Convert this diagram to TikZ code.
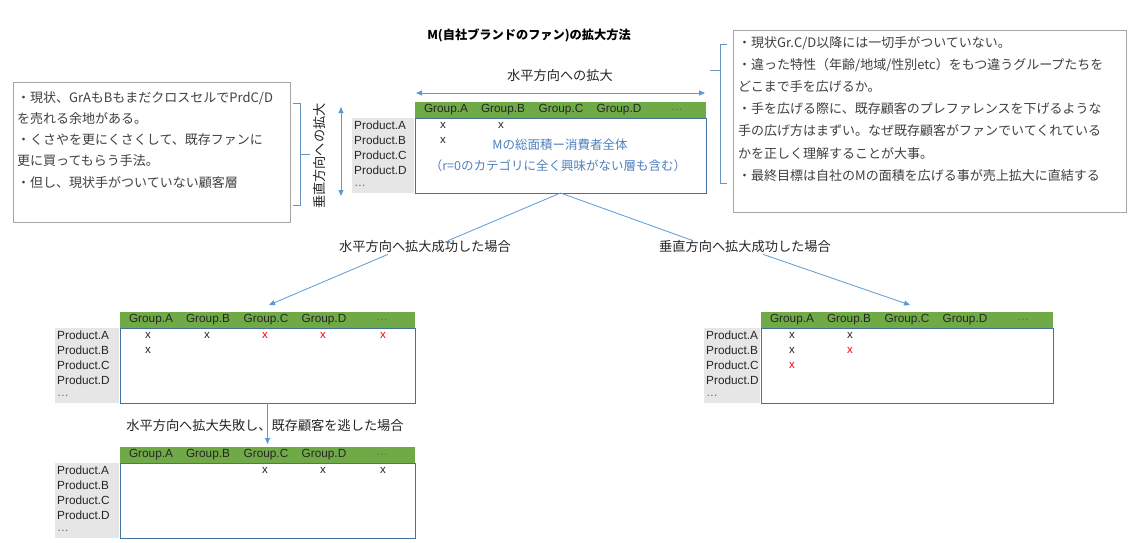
\documentclass[tikz,border=0pt]{standalone}
\usepackage{fontspec}
\setmainfont{Liberation Sans}
\newfontfamily\jp{Noto Sans CJK JP}
\usetikzlibrary{arrows.meta,calc}
\definecolor{hgreen}{RGB}{112,170,71}
\definecolor{tborder}{RGB}{65,113,156}
\definecolor{pgray}{RGB}{231,230,230}
\definecolor{arrblue}{RGB}{91,155,213}
\definecolor{mblue}{RGB}{79,129,189}
\definecolor{boxgray}{RGB}{166,166,166}
\definecolor{txtgray}{RGB}{64,64,64}
\definecolor{lbl}{RGB}{38,38,38}
\definecolor{xred}{RGB}{255,0,0}

\newcommand\GTable[5]{%
  \node[pcol, minimum width=#5pt, anchor=north east] (#1p) at (#2-1,#3+16) {};
  \node[tbox, minimum width=#4pt, anchor=north west] (#1b) at (#2,#3+16) {};
  \node[hdr, minimum width=#4pt, anchor=north west] (#1h) at (#2,#3) {};
  \node[glab] (#1ga) at (#2+31,#3+8) {Group.A};
  \node[glab] (#1gb) at (#2+88,#3+8) {Group.B};
  \node[glab] (#1gc) at (#2+146,#3+8) {Group.C};
  \node[glab] (#1gd) at (#2+204,#3+8) {Group.D};
  \node[glab, text=black!60] (#1ge) at (#2+262,#3+8) {…};
  \node[plab] (#1pa) at (#2-#5+1,#3+23) {Product.A};
  \node[plab] (#1pb) at (#2-#5+1,#3+38) {Product.B};
  \node[plab] (#1pc) at (#2-#5+1,#3+53) {Product.C};
  \node[plab] (#1pd) at (#2-#5+1,#3+68) {Product.D};
  \node[plab, text=black!60] (#1pe) at (#2-#5+1,#3+84) {…};
}
\newcommand\XM[4]{\node[xm, text=#4] (#1) at (#2,#3) {x};}

\begin{document}
\begin{tikzpicture}[x=1pt,y=-1pt,
 hdr/.style={fill=hgreen, draw=none, minimum height=16pt, inner sep=0pt, outer sep=0pt},
 tbox/.style={draw=tborder, fill=white, line width=0.8pt, minimum height=75pt, inner sep=0pt, outer sep=0pt},
 pcol/.style={fill=pgray, draw=none, minimum height=75pt, inner sep=0pt, outer sep=0pt},
 glab/.style={font=\fontsize{11.8}{13}\selectfont, text=black!85, inner sep=0pt},
 plab/.style={font=\fontsize{11.8}{13}\selectfont, text=black!85, inner sep=0pt, anchor=west},
 xm/.style={font=\fontsize{11.5}{13}\selectfont, inner sep=0pt},
 tbx/.style={draw=boxgray, line width=0.7pt, fill=white, inner sep=0pt},
 jtext/.style={font=\jp\fontsize{13}{21.25}\selectfont, text=txtgray, inner sep=0pt, align=left, anchor=north west},
 jlab/.style={font=\jp\fontsize{13.2}{15}\selectfont, text=lbl, inner sep=1pt},
 conn/.style={draw=arrblue, line width=0.8pt},
 arr/.style={conn, -{Triangle[length=6pt,width=5pt]}},
 darr/.style={conn, {Triangle[length=6pt,width=5pt]}-{Triangle[length=6pt,width=5pt]}},
 brc/.style={draw=arrblue!75!gray, line width=0.7pt},
]
\useasboundingbox (0,0) rectangle (1135,543);
\fill[white] (0,0) rectangle (1135,543);

% title
\node[font=\jp\bfseries\fontsize{12.2}{14}\selectfont, text=black] (title) at (529,35) {M(自社ブランドのファン)の拡大方法};

% left text box
\node[tbx, minimum width=277pt, minimum height=140pt, anchor=north west] (lbox) at (13,82) {};
\node[jtext, text width=272pt] (ltext) at (17,91) {・現状、GrAもBもまだクロスセルでPrdC/D\\を売れる余地がある。\\・くさやを更にくさくして、既存ファンに\\更に買ってもらう手法。\\・但し、現状手がついていない顧客層};
\draw[brc] (293,103) -- (300,103) -- (300,205) -- (293,205);
\draw[brc] (300,154) -- (310,154);

% right text box
\node[tbx, minimum width=393pt, minimum height=182pt, anchor=north west] (rbox) at (733,30) {};
\node[jtext, text width=385pt, font=\jp\fontsize{13}{22.2}\selectfont] (rtext) at (738,36) {・現状Gr.C/D以降には一切手がついていない。\\・違った特性（年齢/地域/性別etc）をもつ違うグループたちを\\どこまで手を広げるか。\\・手を広げる際に、既存顧客のプレファレンスを下げるような\\手の広げ方はまずい。なぜ既存顧客がファンでいてくれている\\かを正しく理解することが大事。\\・最終目標は自社のMの面積を広げる事が売上拡大に直結する};
\draw[brc] (727,44) -- (720,44) -- (720,183) -- (727,183);
\draw[brc] (720,70) -- (710,70);

% main table
\GTable{m}{415}{102}{291}{62}
\XM{mx1}{443}{125}{black!85}
\XM{mx2}{501}{125}{black!85}
\XM{mx3}{443}{140}{black!85}
\node[font=\jp\fontsize{12.5}{14}\selectfont, text=mblue, inner sep=0pt] (mt1) at (560,145) {Mの総面積ー消費者全体};
\node[font=\jp\fontsize{12.5}{14}\selectfont, text=mblue, inner sep=0pt] (mt2) at (558,166) {（r=0のカテゴリに全く興味がない層も含む）};

% horizontal expansion
\node[jlab] (hlab) at (560,75) {水平方向への拡大};
\coordinate (ha1) at (416,93);
\coordinate (ha2) at (705,93);
\draw[darr] (ha1) -- (ha2);

% vertical expansion
\node[jlab, rotate=90] (vlab) at (319,156) {垂直方向への拡大};
\coordinate (va1) at (341,107);
\coordinate (va2) at (341,196);
\draw[darr] (va1) -- (va2);

% bottom-left table 1
\GTable{ta}{120}{312}{295}{64}
\XM{ax1}{148}{335}{black!85}
\XM{ax2}{207}{335}{black!85}
\XM{ax3}{265}{335}{xred}
\XM{ax4}{323}{335}{xred}
\XM{ax5}{383}{335}{xred}
\XM{ax6}{148}{350}{black!85}

% bottom-left table 2
\GTable{tb}{120}{447}{295}{64}
\XM{bx1}{265}{470}{black!85}
\XM{bx2}{323}{470}{black!85}
\XM{bx3}{383}{470}{black!85}

% right table
\GTable{tr}{761}{312}{292}{56}
\XM{rx1}{792}{335}{black!85}
\XM{rx2}{850}{335}{black!85}
\XM{rx3}{792}{350}{black!85}
\XM{rx4}{850}{350}{xred}
\XM{rx5}{792}{365}{xred}

% branch labels
\node[jlab] (lblL) at (425,247) {水平方向へ拡大成功した場合};
\node[jlab] (lblR) at (745,247) {垂直方向へ拡大成功した場合};
\node[jlab] (lblF) at (265,425) {水平方向へ拡大失敗し、既存顧客を逃した場合};

% connectors
\draw[conn] (mb.south) -- ($(lblL.north)+(23,1)$);
\draw[arr] ($(lblL.south)+(-37,0)$) -- ($(tah.north west)+(149,-7)$);
\draw[conn] (mb.south) -- ($(lblR.north)+(-52,1)$);
\draw[arr] ($(lblR.south)+(18,0)$) -- ($(trh.north west)+(149,-7)$);
\draw[arr] (tab.south) -- ($(tbh.north)+(0,-3)$);
\end{tikzpicture}
\end{document}
